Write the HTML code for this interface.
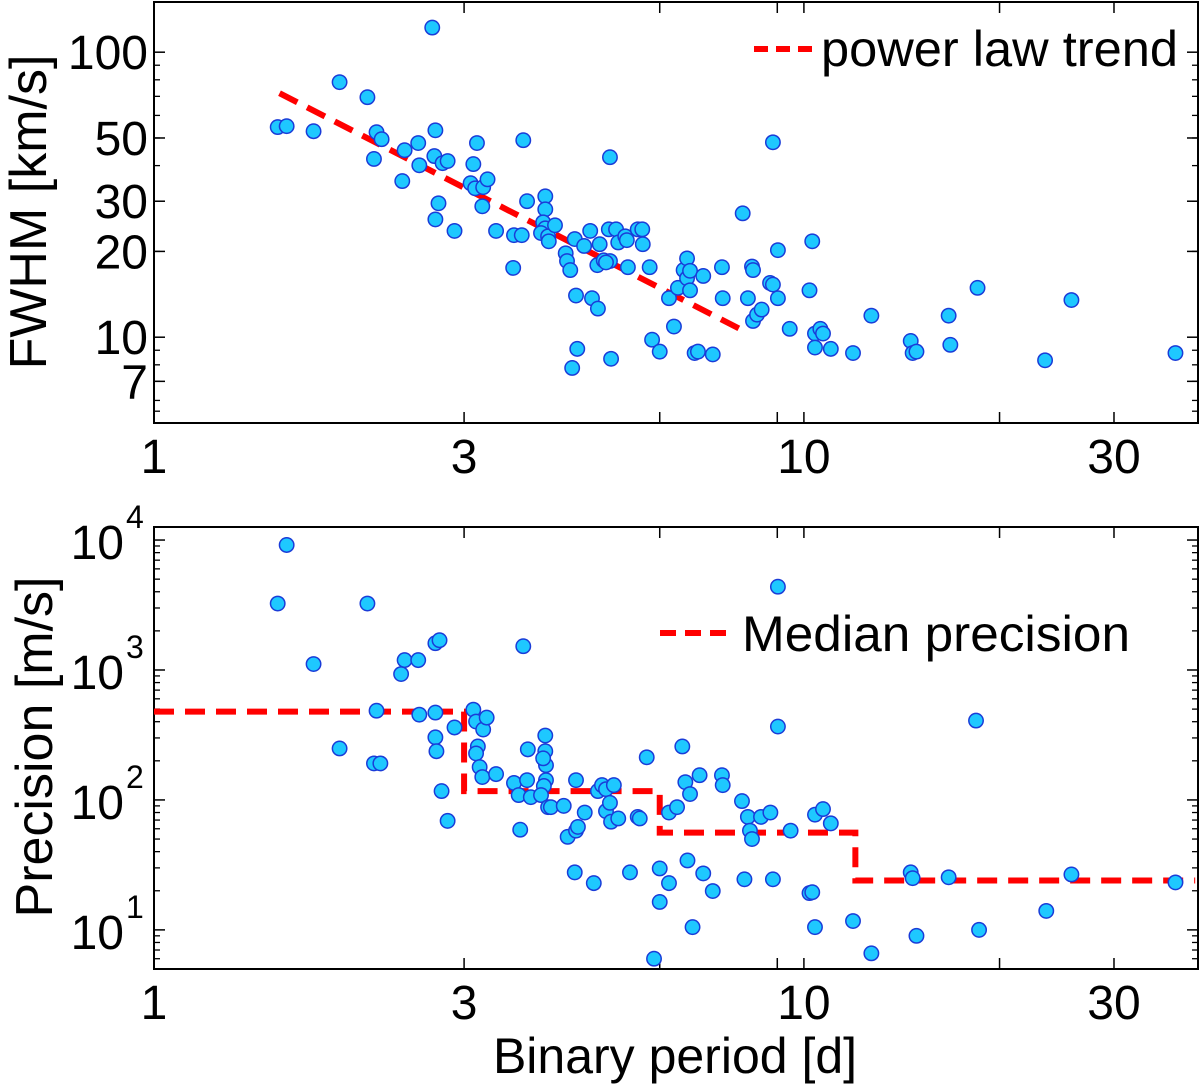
<!DOCTYPE html>
<html><head><meta charset="utf-8">
<style>
html,body{margin:0;padding:0;background:#fff;}
svg{display:block;}
text{font-family:"Liberation Sans",sans-serif;fill:#000;}
</style></head>
<body>
<svg id="chart" width="1200" height="1084" viewBox="0 0 1200 1084" xmlns="http://www.w3.org/2000/svg"></svg>
<script>
// ---- data ----
const fwhmPeriod = [1.55,1.60,1.76,1.93,2.13,2.20,2.24,2.18,2.43,2.41,2.55,2.56,2.71,2.70,2.78,2.83,2.74,2.71,2.90,2.68,3.14,3.10,3.07,3.12,3.21,3.26,3.20,3.36,3.58,3.68,3.70,3.75,3.57,4.0,4.0,3.97,4.0,3.94,4.04,4.05,4.14,4.30,4.32,4.37,4.44,4.46,4.48,4.40,4.59,4.69,4.72,4.81,4.85,4.92,5.03,5.03,5.05,4.82,4.96,5.01,5.14,5.18,5.31,5.34,5.36,5.55,5.64,5.65,5.79,5.84,6.0,6.2,6.31,6.40,6.53,6.61,6.61,6.68,6.68,6.79,6.87,7.0,7.24,7.48,7.50,8.05,8.2,8.32,8.35,8.35,8.47,8.61,8.96,8.87,8.96,9.12,9.12,9.51,10.2,10.3,10.4,10.4,10.6,10.7,11.0,11.9,12.7,14.6,14.7,14.9,16.7,16.8,18.5,25.8,23.5,37.3];
const fwhmValues = [54.6,55,52.8,78.5,69.5,52.4,49.5,42.2,45.3,35.3,48,40.1,53.2,43.2,40.8,41.5,29.5,25.9,23.6,122,48,40.5,34.7,33.3,33.6,35.8,28.8,23.6,22.8,22.8,49.1,30,17.5,31.2,28.1,25.3,24.1,23.2,22.6,21.7,24.7,19.7,18.5,17.2,22.1,14.0,9.1,7.8,20.9,23.6,13.7,17.9,21.2,18.6,18.5,42.8,8.4,12.6,18.3,23.9,23.9,21.5,22.6,21.9,17.6,23.9,23.9,21.2,17.6,9.8,8.9,13.7,10.9,14.9,17.2,18.9,16.1,14.6,17.1,8.8,8.9,16.4,8.7,17.6,13.7,27.2,13.7,17.7,17.2,11.4,12.0,12.5,48.3,15.5,15.3,20.2,13.7,10.7,14.6,21.7,10.3,9.2,10.7,10.3,9.1,8.8,11.9,9.7,8.8,8.9,11.9,9.4,14.9,13.5,8.3,8.8];
const precPeriod = [1.55,1.60,1.76,1.93,2.13,2.18,2.23,2.20,2.40,2.43,2.55,2.56,2.71,2.75,2.71,2.72,2.71,2.77,2.83,2.90,3.10,3.13,3.15,3.13,3.17,3.21,3.20,3.25,3.36,3.58,3.66,3.64,3.70,3.76,3.80,3.75,4.0,4.01,3.98,4.01,3.97,4.0,3.94,4.04,4.08,4.27,4.33,4.44,4.46,4.46,4.49,4.60,4.75,4.82,4.89,4.96,4.96,5.03,5.05,5.10,5.18,5.40,5.55,5.59,5.73,5.88,6.0,6.0,6.2,6.2,6.38,6.50,6.57,6.62,6.74,6.68,6.91,7.0,7.24,7.48,7.50,8.03,8.10,8.2,8.26,8.32,8.59,8.88,8.96,9.12,9.12,9.54,10.2,10.3,10.4,10.4,10.7,11.0,11.9,12.7,14.6,14.7,14.9,16.7,18.4,18.6,23.6,25.8,37.3];
const precValues = [3245,9160,1111,249,3245,191,191,486,931,1191,1191,453,1607,1694,303,237,470,117,69,361,495,401,258,228,179,348,150,430,158,135,59,109,1524,245,105,142,237,142,128,185,209,313,109,88,88,90,52,27.7,142,58,62,80,22.9,117,130,121,82,95,68,130,72,27.7,74,72,213,6.0,29.7,16.4,22.9,80,88,258,137,34.2,10.5,111,155,27.2,19.9,155,130,98,24.5,74,58,50,74,80,24.5,367,4375,58,19.2,19.5,10.5,77,85,66,11.7,6.6,27.7,25,9.0,25.4,408,10,14,26.7,23.2];
const trendPeriod = [1.56, 8.03];
const trendFwhm = [71.8, 10.6];
const binEdges = [1, 3, 6, 12, 40];
const binMedians = [478, 117, 56, 24];
const topYTicks = [100, 50, 30, 20, 10, 7];
const xTicks = [1, 3, 10, 30];
const bottomExps = [4, 3, 2, 1];

// ---- axes ----
const X0 = 154, X1 = 1198, XMIN = 1, XMAX = 40.4;
function xs(v){ return X0 + (Math.log10(v)-Math.log10(XMIN))/(Math.log10(XMAX)-Math.log10(XMIN))*(X1-X0); }
const T0 = 2, T1 = 423, TMIN = 5, TMAX = 150;
function yt(v){ return T1 - (Math.log10(v)-Math.log10(TMIN))/(Math.log10(TMAX)-Math.log10(TMIN))*(T1-T0); }
const B0 = 527, B1 = 969, BMIN = 5, BMAX = 12600;
function yb(v){ return B1 - (Math.log10(v)-Math.log10(BMIN))/(Math.log10(BMAX)-Math.log10(BMIN))*(B1-B0); }

const NS = "http://www.w3.org/2000/svg";
const svg = document.getElementById('chart');
function el(tag, attrs, parent){
  const e = document.createElementNS(NS, tag);
  for (const k in attrs) e.setAttribute(k, attrs[k]);
  (parent||svg).appendChild(e);
  return e;
}

function drawPanel(top, bot, yfun, yticks, minorTicks, name){
  const g = el('g', {});
  
  
  minorTicks.forEach(v=>{
    const y = yfun(v);
    if (y < top || y > bot) return;
    el('line',{x1:X0,x2:X0+6,y1:y,y2:y,stroke:'#000','stroke-width':1.3},g);
    el('line',{x1:X1-6,x2:X1,y1:y,y2:y,stroke:'#000','stroke-width':1.3},g);
  });
  yticks.forEach(v=>{
    const y = yfun(v);
    el('line',{x1:X0,x2:X0+11,y1:y,y2:y,stroke:'#000','stroke-width':1.5},g);
    el('line',{x1:X1-11,x2:X1,y1:y,y2:y,stroke:'#000','stroke-width':1.5},g);
  });
  [1,3,6,9.1,10,20,30].forEach(v=>{
    const x = xs(v);
    el('line',{x1:x,x2:x,y1:bot,y2:bot-11,stroke:'#000','stroke-width':1.5},g);
    el('line',{x1:x,x2:x,y1:top,y2:top+11,stroke:'#000','stroke-width':1.5},g);
  });
  el('rect',{x:X0,y:top,width:X1-X0,height:bot-top,fill:'none',stroke:'#000','stroke-width':2},g);
  xTicks.forEach(v=>{
    const t = el('text',{x:xs(v),y:bot+50,'font-size':48,'text-anchor':'middle'},g);
    t.textContent = v;
    
    
  });
}

const topMinor = [5.5,6,7,8,9,20,30,40,50,60,70,80,90,200];
drawPanel(T0, T1, yt, [100,50,30,20,10,7], topMinor, 'fwhm');
topYTicks.forEach(v=>{
  const t = el('text',{x:148,y:yt(v)+17,'font-size':48,'text-anchor':'end'});
  t.textContent = v;
  
  
});

const botMinor = [];
for (let d=0; d<5; d++) for (let m=2; m<10; m++) botMinor.push(m*Math.pow(10,d));
drawPanel(B0, B1, yb, [10,100,1000,10000], botMinor, 'precision');
bottomExps.forEach(e=>{
  const t = el('text',{x:124,y:yb(Math.pow(10,e))+19,'font-size':48,'text-anchor':'end'});
  t.textContent = '10';
  
  
  const s = el('text',{x:126,y:yb(Math.pow(10,e))-12,'font-size':32,'text-anchor':'start'});
  s.textContent = e;
  
  
});

const yl1 = el('text',{x:0,y:0,'font-size':52,'text-anchor':'middle',transform:'translate(46,212) rotate(-90)'});
yl1.textContent = 'FWHM [km/s]';


const yl2 = el('text',{x:0,y:0,'font-size':52,'text-anchor':'middle',transform:'translate(52,747) rotate(-90)'});
yl2.textContent = 'Precision [m/s]';


const xl = el('text',{x:675,y:1073,'font-size':50,'text-anchor':'middle'});
xl.textContent = 'Binary period [d]';



const trend = el('line',{x1:xs(trendPeriod[0]),y1:yt(trendFwhm[0]),x2:xs(trendPeriod[1]),y2:yt(trendFwhm[1]),stroke:'#ff0000','stroke-width':6,'stroke-dasharray':'20 11'});



let d = '';
binMedians.forEach((m,i)=>{
  const xa = xs(binEdges[i]), xb = xs(binEdges[i+1]), y = yb(m);
  d += (i===0 ? 'M' : 'L') + xa + ' ' + y + ' L' + xb + ' ' + y + ' ';
});
const step = el('path',{d:d,fill:'none',stroke:'#ff0000','stroke-width':6,'stroke-dasharray':'20 11'});



fwhmPeriod.forEach((p,i)=>{
  const c = el('circle',{cx:xs(p),cy:yt(fwhmValues[i]),r:7.2,fill:'#1ec8ff',stroke:'#1a3cd8','stroke-width':1.5});
  
  
});
precPeriod.forEach((p,i)=>{
  const c = el('circle',{cx:xs(p),cy:yb(precValues[i]),r:7.2,fill:'#1ec8ff',stroke:'#1a3cd8','stroke-width':1.5});
  
  
});

const lg1 = el('line',{x1:754,x2:816,y1:49,y2:49,stroke:'#ff0000','stroke-width':6,'stroke-dasharray':'14 8'});


const lt1 = el('text',{x:821,y:66,'font-size':50,textLength:357,lengthAdjust:'spacingAndGlyphs'});
lt1.textContent = 'power law trend';


const lg2 = el('line',{x1:660,x2:732,y1:633,y2:633,stroke:'#ff0000','stroke-width':6,'stroke-dasharray':'16 9'});


const lt2 = el('text',{x:742,y:651,'font-size':50,textLength:388,lengthAdjust:'spacingAndGlyphs'});
lt2.textContent = 'Median precision';


</script>
</body></html>
